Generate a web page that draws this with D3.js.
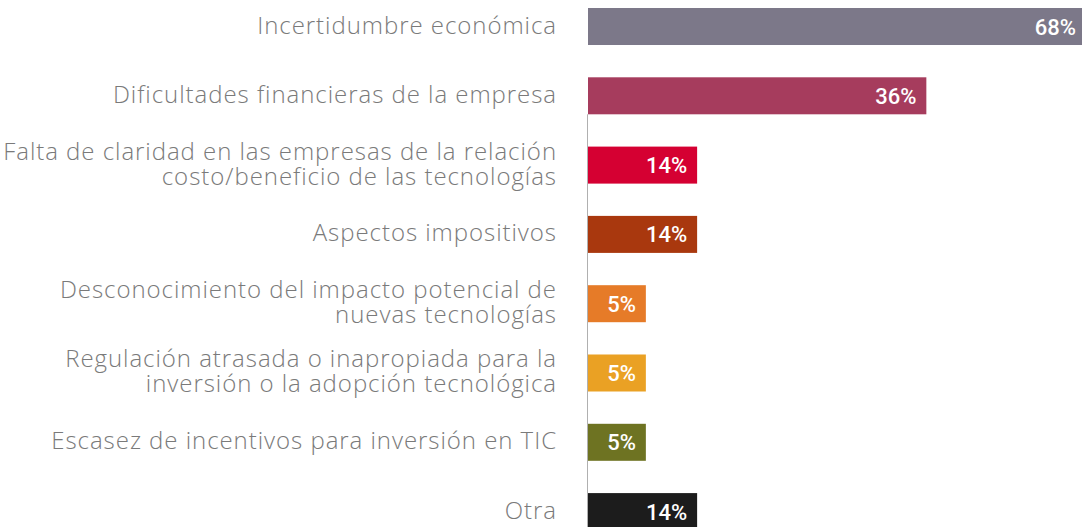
<!DOCTYPE html>
<html>
<head>
<meta charset="utf-8">
<script src="https://cdn.jsdelivr.net/npm/d3@7"></script>
<style>
  html, body { margin: 0; padding: 0; background: #fff; overflow: hidden; }
  svg { display: block; }
</style>
</head>
<body>
<svg id="chart"></svg>
<script>
const categories = [
  "Incertidumbre económica",
  "Dificultades financieras de la empresa",
  "Falta de claridad en las empresas de la relación|costo/beneficio de las tecnologías",
  "Aspectos impositivos",
  "Desconocimiento del impacto potencial de|nuevas tecnologías",
  "Regulación atrasada o inapropiada para la|inversión o la adopción tecnológica",
  "Escasez de incentivos para inversión en TIC",
  "Otra"
]
// value printed on each bar
const values = [68, 36, 14, 14, 5, 5, 5, 14]
// bar length as drawn in the picture (same % units)
const barLength = [68, 46.2, 14.9, 14.9, 7.9, 7.9, 7.9, 14.9]
const colors = ["#7c7889", "#a63c5d", "#d50032", "#a9380e", "#e67b28", "#eaa124", "#6e7322", "#1c1c1c"]

const width = 1082, height = 527

const svg = d3.select("#chart").attr("width", width).attr("height", height)

const data = categories.map((c, i) => ({
  id: i,
  lines: c.split("|"),
  value: values[i],
  len: barLength[i],
  color: colors[i]
}))

const y = d3.scaleBand()
  .domain(data.map(d => d.id))
  .range([8, 530.1])
  .paddingInner(0.466)
  .paddingOuter(0)

const x = d3.scaleLinear()
  .domain([0, 68])
  .range([588, 1086])

// axis line
svg.append("line")
  .attr("x1", x(0) - 0.5).attr("x2", x(0) - 0.5)
  .attr("y1", y(1) + y.bandwidth()).attr("y2", height)
  .attr("stroke", "#b0b0b0")
  .attr("stroke-width", 1)

svg.append("g")
  .selectAll("rect")
  .data(data)
  .enter().append("rect")
    .attr("x", x(0))
    .attr("y", d => y(d.id))
    .attr("width", d => x(d.len) - x(0))
    .attr("height", y.bandwidth())
    .attr("fill", d => d.color)

svg.append("g")
  .selectAll("text")
  .data(data)
  .enter().append("text")
    .attr("x", d => x(d.len) - 10)
    .attr("y", d => y(d.id) + y.bandwidth() / 2 + 8)
    .attr("text-anchor", "end")
    .attr("fill", "#fff")
    .style("font-family", "Roboto, sans-serif")
    .style("font-weight", 500)
    .style("font-size", "22px")
    .text(d => d.value + "%")

const lineH = 25
const labels = svg.append("g")
  .selectAll("text")
  .data(data)
  .enter().append("text")
    .attr("text-anchor", "end")
    .attr("fill", "#7a7a7a")
    .style("font-family", "'Open Sans', sans-serif")
    .style("font-weight", 300)
    .style("font-size", "24px")
    .style("letter-spacing", "0.95px")

labels.each(function(d) {
  const t = d3.select(this)
  const cy = y(d.id) + y.bandwidth() / 2 + 7
  d.lines.forEach((l, i) => {
    t.append("tspan")
      .attr("x", 557)
      .attr("y", cy + (i - (d.lines.length - 1) / 2) * lineH)
      .text(l)
  })
})
</script>
</body>
</html>
